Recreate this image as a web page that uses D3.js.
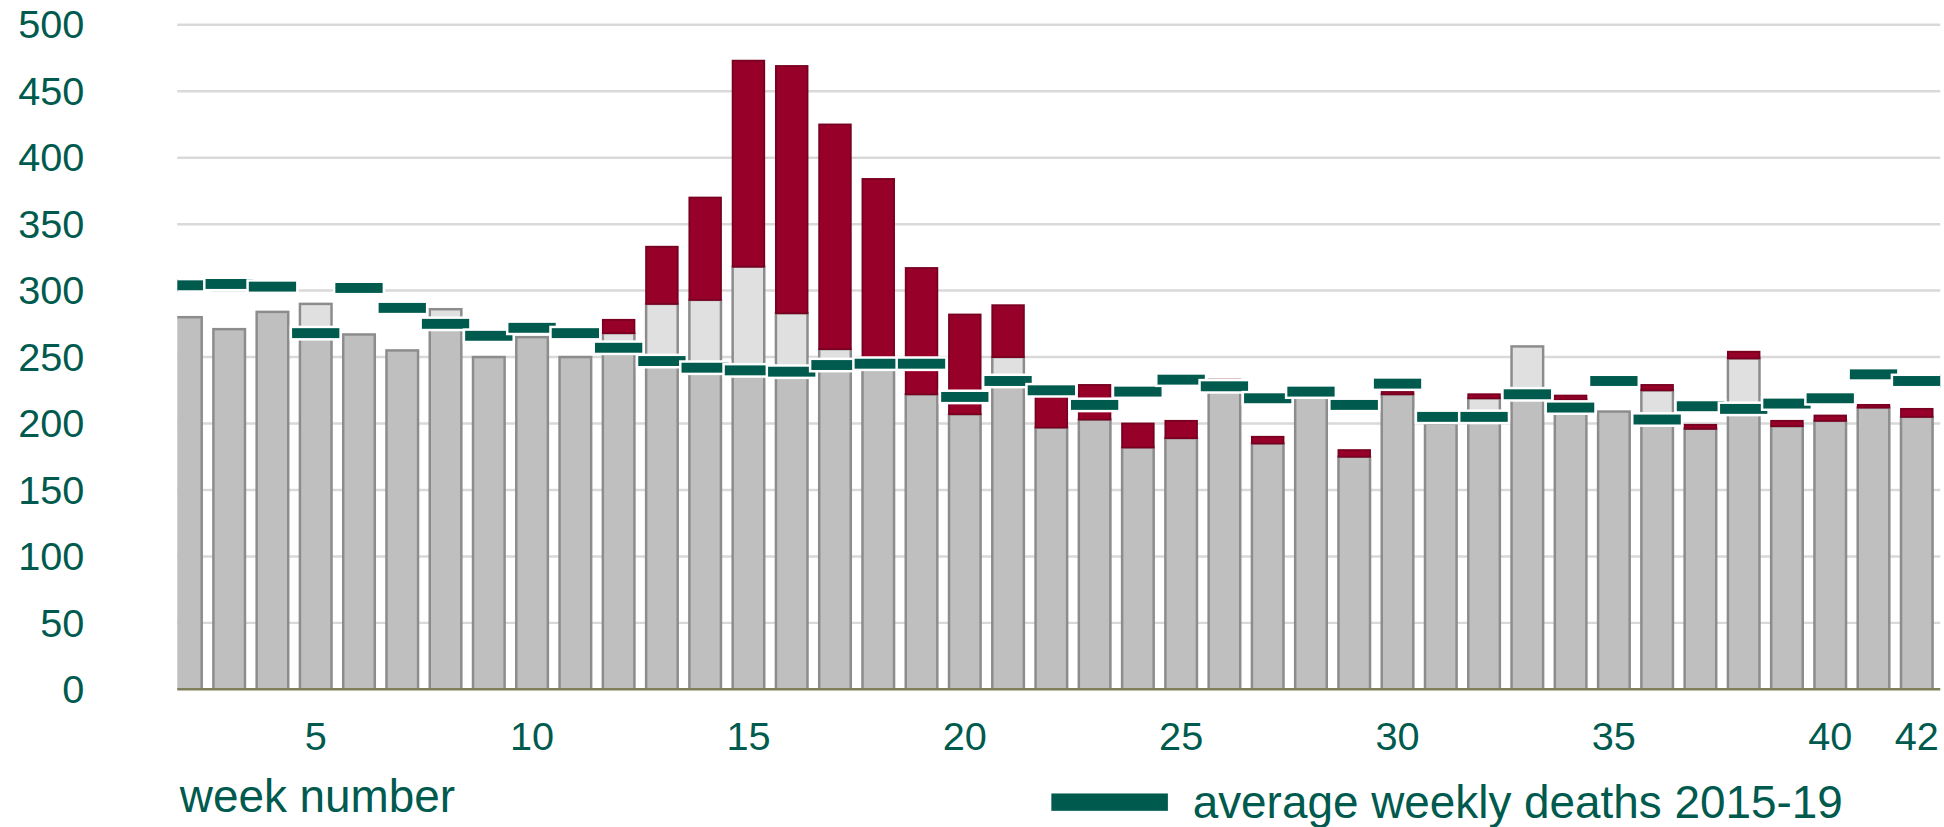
<!DOCTYPE html>
<html>
<head>
<meta charset="utf-8">
<script src="https://cdn.jsdelivr.net/npm/d3@7"></script>
<style>
  body { margin: 0; background: #fff; }
  text { font-family: "Liberation Sans", Arial, sans-serif; }
</style>
</head>
<body>
<svg id="chart" width="1944" height="827"></svg>
<script>
'use strict';

// weeks 2..42
var weeks = d3.range(2, 43);
var nonCovid = [280, 271, 284, 290, 267, 255, 286, 250, 265, 250,
                268, 290, 293, 318, 283, 256, 248, 222, 207, 250,
                197, 203, 182, 189, 228, 185, 220, 175, 222, 200,
                219, 258, 218, 209, 225, 196, 249, 198, 202, 212, 205];
var covid = [0, 0, 0, 0, 0, 0, 0, 0, 0, 0,
             10, 43, 77, 155, 186, 169, 136, 95, 75, 39,
             23, 26, 18, 13, 5, 5, 0, 5, 2, 0,
             3, 0, 3, 0, 4, 3, 5, 4, 4, 2, 6];
var average = [304, 305, 303, 268, 302, 287, 275, 266, 272, 268,
               257, 247, 242, 240, 239, 244, 245, 245, 220, 232,
               225, 214, 224, 233, 228, 219, 224, 214, 230, 205,
               205, 222, 212, 232, 203, 213, 211, 215, 219, 237, 232];
var yTicks = [0, 50, 100, 150, 200, 250, 300, 350, 400, 450, 500];
var xTicks = [5, 10, 15, 20, 25, 30, 35, 40, 42];

(function() {
    var teal = '#005a4e';
    // layout worked out on a 1568-wide view, scaled up to 1944
    var svg = d3.select('#chart').append('g').attr('transform', 'scale(' + (1944 / 1568) + ')');
    var pLeft = 143, pRight = 1565, pTop = 20, pBottom = 556;

    var x = d3.scaleBand().domain(weeks).range([132.5, 1563.5]).paddingInner(0.27).paddingOuter(0.135);
    var y = d3.scaleLinear().domain([0, 500]).range([pBottom, pTop]);

    svg.append('defs').append('clipPath').attr('id', 'plot')
        .append('rect').attr('x', pLeft).attr('y', 0).attr('width', pRight - pLeft).attr('height', pBottom);

    // grid
    svg.selectAll('.grid').data(yTicks.slice(1)).enter().append('line')
        .attr('x1', pLeft).attr('x2', pRight)
        .attr('y1', function(d) { return y(d); }).attr('y2', function(d) { return y(d); })
        .attr('stroke', '#d9d9d9').attr('stroke-width', 2);

    svg.selectAll('.ylab').data(yTicks).enter().append('text')
        .attr('x', 68).attr('y', function(d) { return y(d) + 11; })
        .attr('text-anchor', 'end').attr('font-size', 32).attr('fill', teal)
        .text(function(d) { return d; });

    var rows = weeks.map(function(w, i) {
        return { w: w, nc: nonCovid[i], cv: covid[i], avg: average[i] };
    });

    var g = svg.append('g').attr('clip-path', 'url(#plot)');
    var bw = x.bandwidth();

    // base (up to min of non-covid and average)
    g.selectAll('.base').data(rows).enter().append('rect')
        .attr('x', function(d) { return x(d.w); }).attr('width', bw)
        .attr('y', function(d) { return y(Math.min(d.nc, d.avg)); })
        .attr('height', function(d) { return y(0) - y(Math.min(d.nc, d.avg)); })
        .attr('fill', '#bfbfbf').attr('stroke', '#8c8c8c').attr('stroke-width', 2);

    // non-covid excess above average
    g.selectAll('.excess').data(rows.filter(function(d) { return d.nc > d.avg; })).enter().append('rect')
        .attr('x', function(d) { return x(d.w); }).attr('width', bw)
        .attr('y', function(d) { return y(d.nc); })
        .attr('height', function(d) { return y(d.avg) - y(d.nc); })
        .attr('fill', '#e0e0e0').attr('stroke', '#8c8c8c').attr('stroke-width', 2);

    // covid deaths
    g.selectAll('.covid').data(rows.filter(function(d) { return d.cv > 0; })).enter().append('rect')
        .attr('x', function(d) { return x(d.w); }).attr('width', bw)
        .attr('y', function(d) { return y(d.nc + d.cv); })
        .attr('height', function(d) { return y(d.nc) - y(d.nc + d.cv); })
        .attr('fill', '#960029').attr('stroke', '#7a0022').attr('stroke-width', 1.5);

    // average dashes
    var dw = x.step() * 1.15;
    g.selectAll('.avg').data(rows).enter().append('rect')
        .attr('x', function(d) { return x(d.w) + bw / 2 - dw / 2; }).attr('width', dw)
        .attr('y', function(d) { return y(d.avg) - 5; }).attr('height', 10)
        .attr('fill', teal).attr('stroke', '#fff').attr('stroke-width', 2);

    // baseline
    svg.append('line').attr('x1', pLeft).attr('x2', pRight).attr('y1', pBottom).attr('y2', pBottom)
        .attr('stroke', '#7f7f5a').attr('stroke-width', 2);

    svg.selectAll('.xlab').data(xTicks).enter().append('text')
        .attr('x', function(d) { return x(d) + bw / 2; }).attr('y', 605)
        .attr('text-anchor', 'middle').attr('font-size', 32).attr('fill', teal)
        .text(function(d) { return d; });

    svg.append('text').attr('x', 145).attr('y', 655).attr('font-size', 37).attr('fill', teal)
        .text('week number');

    svg.append('rect').attr('x', 848).attr('y', 640).attr('width', 94).attr('height', 14).attr('fill', teal);
    svg.append('text').attr('x', 962).attr('y', 660).attr('font-size', 37).attr('fill', teal)
        .text('average weekly deaths 2015-19');
})();
</script>
</body>
</html>
